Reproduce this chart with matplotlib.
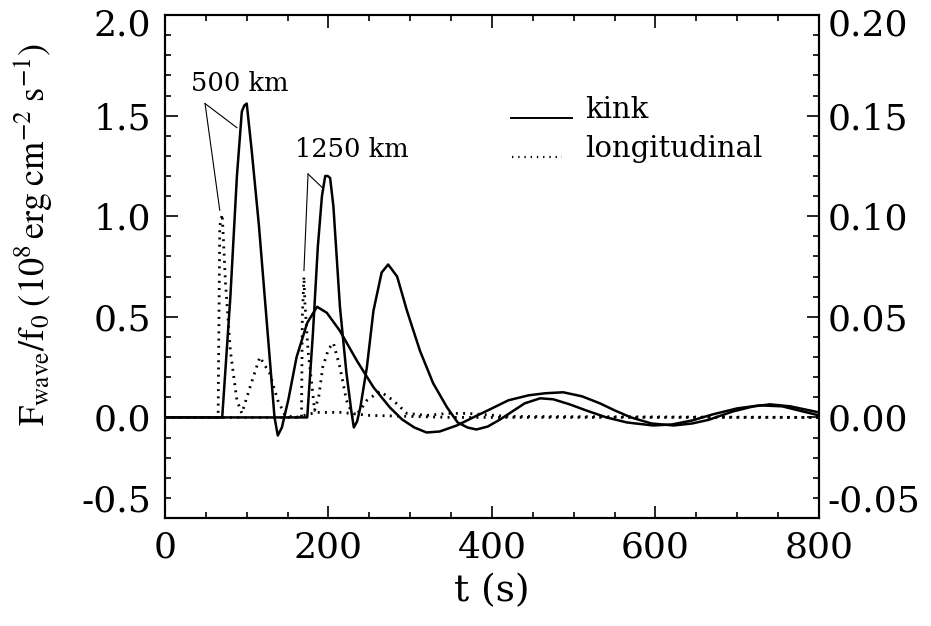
import matplotlib
matplotlib.use('Agg')
import matplotlib.pyplot as plt
from matplotlib.ticker import MultipleLocator, FormatStrFormatter
from matplotlib.transforms import ScaledTranslation

# kink waves (left axis, 10^8 erg cm^-2 s^-1)
t_kink_500 = [0, 70, 80, 88, 94, 97, 100, 106, 115, 125, 134, 138, 143, 151, 161, 174, 186, 198,
              214, 235, 255, 275, 290, 305, 320, 336, 357, 377, 400, 420, 445, 465, 487, 510,
              532, 550, 570, 595, 622, 645, 665, 695, 720, 740, 765, 800]
f_kink_500 = [0, 0, 0.60, 1.20, 1.52, 1.55, 1.56, 1.33, 0.95, 0.45, 0.0, -0.09, -0.05, 0.09,
              0.30, 0.47, 0.55, 0.52, 0.43, 0.28, 0.15, 0.05, -0.01, -0.05, -0.075, -0.07,
              -0.04, 0.0, 0.045, 0.085, 0.11, 0.12, 0.125, 0.105, 0.07, 0.035, 0.0, -0.03,
              -0.04, -0.03, -0.012, 0.03, 0.055, 0.065, 0.055, 0.025]

t_kink_1250 = [0, 174, 181, 187, 192, 196, 199, 202, 206, 214, 222, 228, 231, 235, 239, 247,
               255, 265, 273, 284, 296, 312, 328, 345, 358, 370, 381, 395, 410, 425, 440, 459,
               475, 495, 515, 540, 565, 597, 620, 645, 670, 700, 728, 755, 780, 800]
f_kink_1250 = [0, 0, 0.42, 0.85, 1.10, 1.20, 1.20, 1.19, 1.05, 0.55, 0.22, 0.03, -0.05, -0.02,
               0.05, 0.25, 0.53, 0.72, 0.76, 0.70, 0.53, 0.33, 0.17, 0.05, -0.025, -0.05,
               -0.06, -0.045, -0.01, 0.03, 0.07, 0.095, 0.09, 0.065, 0.035, 0.0, -0.025,
               -0.04, -0.035, -0.015, 0.015, 0.045, 0.06, 0.055, 0.03, 0.01]

# longitudinal waves (right axis)
t_long_500 = [0, 65, 67, 70, 74, 77, 80, 88, 94, 104, 116, 128, 138, 147, 160, 185, 215, 250,
              300, 350, 800]
f_long_500 = [0, 0, 0.095, 0.101, 0.067, 0.050, 0.033, 0.0085, 0.002, 0.015, 0.030, 0.022,
              0.0085, 0.001, 0.0, 0.0025, 0.0025, 0.001, 0.0005, 0, 0]

t_long_1250 = [0, 167, 168, 170, 171, 175, 180, 183, 188, 193, 200, 206, 214, 222, 230, 238,
               247, 263, 279, 296, 320, 345, 370, 420, 800]
f_long_1250 = [0, 0, 0.050, 0.070, 0.058, 0.033, 0.015, 0.0035, 0.010, 0.025, 0.034, 0.037,
               0.025, 0.0085, 0.001, 0.003, 0.0085, 0.013, 0.0085, 0.002, 0.001, 0.002,
               0.002, 0.0005, 0]

# labels and their leader lines: text position, line start, line ends
labels = ['500 km', '1250 km']
label_pos = [(92, 1.66), (228, 1.33)]
leader_start = [(49, 1.56), (175, 1.21)]
leader_ends = [[(67, 1.03), (88, 1.44)], [(170, 0.73), (193, 1.14)]]

plt.rcParams['font.family'] = 'DejaVu Serif'
plt.rcParams['mathtext.fontset'] = 'dejavuserif'

fig = plt.figure(figsize=(9.31, 6.26), dpi=100)
ax = fig.add_axes([0.1772, 0.1725, 0.7025, 0.8035])
ax2 = ax.twinx()

ax.plot(t_kink_500, f_kink_500, color='k', lw=1.8)
ax.plot(t_kink_1250, f_kink_1250, color='k', lw=1.8)
ax2.plot(t_long_500, f_long_500, color='k', lw=2.0, ls=(0, (0.7, 1.9)))
ax2.plot(t_long_1250, f_long_1250, color='k', lw=2.0, ls=(0, (0.7, 1.9)))

for lab, pos, st, ends in zip(labels, label_pos, leader_start, leader_ends):
    ax.text(pos[0], pos[1], lab, ha='center', va='center', fontsize=18.5)
    for e in ends:
        ax.plot([st[0], e[0]], [st[1], e[1]], color='k', lw=0.8)

# legend
ax.plot([0.529, 0.622], [0.795, 0.795], color='k', lw=1.4, transform=ax.transAxes)
ax.text(0.643, 0.795, 'kink', fontsize=21, va='baseline', transform=ax.transAxes)
ax.plot([0.531, 0.607], [0.718, 0.718], color='k', lw=1.6, ls=(0, (0.6, 2.2)),
        transform=ax.transAxes)
ax.text(0.643, 0.718, 'longitudinal', fontsize=21, va='baseline', transform=ax.transAxes)

ax.set_xlim(0, 800)
ax.set_ylim(-0.5, 2.0)
ax2.set_ylim(-0.05, 0.2)
ax.xaxis.set_major_locator(MultipleLocator(200))
ax.xaxis.set_minor_locator(MultipleLocator(50))
ax.yaxis.set_major_locator(MultipleLocator(0.5))
ax.yaxis.set_minor_locator(MultipleLocator(0.1))
ax2.yaxis.set_major_locator(MultipleLocator(0.05))
ax2.yaxis.set_minor_locator(MultipleLocator(0.01))
ax.yaxis.set_major_formatter(FormatStrFormatter('%.1f'))
ax2.yaxis.set_major_formatter(FormatStrFormatter('%.2f'))

ax.tick_params(which='both', direction='in', top=True, right=False, labelsize=26, width=1.2)
ax.tick_params(which='major', length=9)
ax.tick_params(which='minor', length=4.5)
ax.tick_params(axis='y', pad=10)
ax.tick_params(axis='x', pad=9)
ax2.tick_params(which='both', direction='in', labelsize=26, width=1.2, pad=6)
ax2.tick_params(which='major', length=9)
ax2.tick_params(which='minor', length=4.5)
for s in ax.spines.values():
    s.set_linewidth(1.5)
for s in ax2.spines.values():
    s.set_linewidth(1.5)

ax.set_xlabel('t (s)', fontsize=27, labelpad=6)
ax.set_ylabel(r'$\mathrm{F_{wave}/f_0\;(10^8\,erg\;cm^{-2}\;s^{-1})}$', fontsize=26,
              math_fontfamily='stix')
ax.yaxis.set_label_coords(-0.168, 0.563)

# end labels sit inside the axis range, as in the original
fig.canvas.draw()
for axis, top, bottom, side in [(ax.yaxis, 2.0, -0.5, 1), (ax2.yaxis, 0.2, -0.05, 2)]:
    for tick in axis.get_major_ticks():
        lab = tick.label1 if side == 1 else tick.label2
        if abs(tick.get_loc() - top) < 1e-9:
            lab.set_transform(lab.get_transform() + ScaledTranslation(0, -0.07, fig.dpi_scale_trans))
        if abs(tick.get_loc() - bottom) < 1e-9:
            lab.set_transform(lab.get_transform() + ScaledTranslation(0, 0.2, fig.dpi_scale_trans))

fig.savefig('out.png', dpi=100)
